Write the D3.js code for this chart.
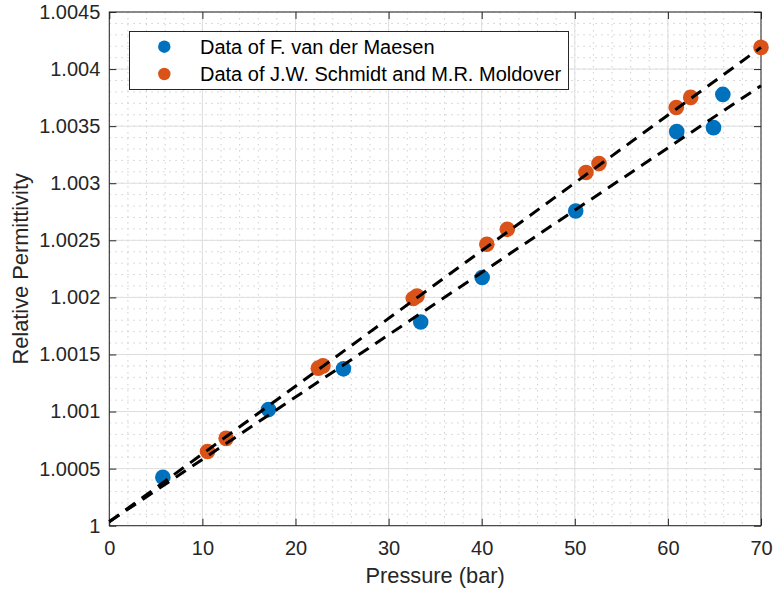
<!DOCTYPE html>
<html>
<head>
<meta charset="utf-8">
<script src="https://cdn.jsdelivr.net/npm/d3@7/dist/d3.min.js"></script>
<style>
  html, body { margin: 0; padding: 0; background: #fff; }
  svg { display: block; font-family: "Liberation Sans", Arial, Helvetica, sans-serif; }
</style>
</head>
<body>
<svg id="chart" width="774" height="595"></svg>
<script>
// Measured relative permittivity versus pressure
const maesenPressure = [5.75, 17.1, 25.15, 33.45, 40.05, 50.1, 60.95, 64.9, 65.9];
const maesenEps      = [1.000425, 1.001017, 1.001374, 1.001784, 1.002174, 1.002757, 1.003452, 1.003487, 1.003778];

const schmidtPressure = [10.55, 12.55, 22.45, 22.95, 32.65, 33.05, 40.55, 42.75, 51.2, 52.6, 60.9, 62.45, 70.0];
const schmidtEps      = [1.000650, 1.000765, 1.001380, 1.001400, 1.001990, 1.002012, 1.002465, 1.002596, 1.003094, 1.003172, 1.003663, 1.003752, 1.004190];

// Linear fits through each data set (end points of the fitted lines)
const fitPressure   = [0, 70];
const fitSchmidt    = [1.000035, 1.004190];
const fitMaesen     = [1.000035, 1.003855];

const xTicks = [0, 10, 20, 30, 40, 50, 60, 70];
const yTicks = [1, 1.0005, 1.001, 1.0015, 1.002, 1.0025, 1.003, 1.0035, 1.004, 1.0045];
const yTickLabels = ["1", "1.0005", "1.001", "1.0015", "1.002", "1.0025", "1.003", "1.0035", "1.004", "1.0045"];
const xMinor = d3.range(0, 70.001, 2);
const yMinor = d3.range(0, 46).map(i => 1 + i * 0.0001);

const legendLabels = ["Data of F. van der Maesen", "Data of J.W. Schmidt and M.R. Moldover"];
const colors = ["#0072BD", "#D95319"];

const svg = d3.select("#chart");
const plotLeft = 109.3, plotRight = 761, plotTop = 12, plotBottom = 525.7;
const x = d3.scaleLinear().domain([0, 70]).range([plotLeft, plotRight]);
const y = d3.scaleLinear().domain([1, 1.0045]).range([plotBottom, plotTop]);

const textColor = "#262626";

// Minor grid (dotted)
const grid = svg.append("g");
grid.selectAll("line.xm").data(xMinor).join("line")
  .attr("x1", d => x(d)).attr("x2", d => x(d)).attr("y1", plotTop).attr("y2", plotBottom)
  .attr("stroke", "#cfcfcf").attr("stroke-width", 1).attr("stroke-dasharray", "1.5,4.5");
grid.selectAll("line.ym").data(yMinor).join("line")
  .attr("y1", d => y(d)).attr("y2", d => y(d)).attr("x1", plotLeft).attr("x2", plotRight)
  .attr("stroke", "#cfcfcf").attr("stroke-width", 1).attr("stroke-dasharray", "1.5,4.5");

// Major grid
const majorGrid = svg.append("g");
majorGrid.selectAll("line.xM").data(xTicks).join("line")
  .attr("x1", d => x(d)).attr("x2", d => x(d)).attr("y1", plotTop).attr("y2", plotBottom)
  .attr("stroke", "#dedede").attr("stroke-width", 1);
majorGrid.selectAll("line.yM").data(yTicks).join("line")
  .attr("y1", d => y(d)).attr("y2", d => y(d)).attr("x1", plotLeft).attr("x2", plotRight)
  .attr("stroke", "#dedede").attr("stroke-width", 1);

// Axes with inward ticks on all four sides
const fmtY = d => yTickLabels[yTicks.indexOf(d)];
const xAxis = d3.axisBottom(x).tickValues(xTicks).tickSizeInner(-7).tickSizeOuter(0).tickPadding(15);
const yAxis = d3.axisLeft(y).tickValues(yTicks).tickFormat(fmtY).tickSizeInner(-7).tickSizeOuter(0).tickPadding(9);
const xAxisTop = d3.axisTop(x).tickValues(xTicks).tickFormat("").tickSizeInner(-7).tickSizeOuter(0);
const yAxisRight = d3.axisRight(y).tickValues(yTicks).tickFormat("").tickSizeInner(-7).tickSizeOuter(0);

function styleAxis(g) {
  g.select(".domain").remove();
  g.selectAll(".tick line").attr("stroke", textColor).attr("stroke-width", 1);
  g.selectAll(".tick text").attr("fill", textColor).style("font-size", "20px")
    .style("font-family", "'Liberation Sans', Arial, Helvetica, sans-serif");
}
svg.append("g").attr("transform", `translate(0,${plotBottom})`).call(xAxis).call(styleAxis);
svg.append("g").attr("transform", `translate(${plotLeft},0)`).call(yAxis).call(styleAxis);
svg.append("g").attr("transform", `translate(0,${plotTop})`).call(xAxisTop).call(styleAxis);
svg.append("g").attr("transform", `translate(${plotRight},0)`).call(yAxisRight).call(styleAxis);

// Axes box
svg.append("rect").attr("x", plotLeft).attr("y", plotTop)
  .attr("width", plotRight - plotLeft).attr("height", plotBottom - plotTop)
  .attr("fill", "none").attr("stroke", textColor).attr("stroke-width", 1);

// Data markers
const markerR = 7.8;
svg.append("g").selectAll("circle").data(maesenPressure.map((p, i) => [p, maesenEps[i]])).join("circle")
  .attr("cx", d => x(d[0])).attr("cy", d => y(d[1])).attr("r", markerR).attr("fill", colors[0]);
svg.append("g").selectAll("circle").data(schmidtPressure.map((p, i) => [p, schmidtEps[i]])).join("circle")
  .attr("cx", d => x(d[0])).attr("cy", d => y(d[1])).attr("r", markerR).attr("fill", colors[1]);

// Fit lines
const fitLine = d3.line().x(d => x(d[0])).y(d => y(d[1]));
[fitSchmidt, fitMaesen].forEach(vals => {
  svg.append("path").datum(fitPressure.map((p, i) => [p, vals[i]]))
    .attr("d", fitLine).attr("fill", "none").attr("stroke", "#000")
    .attr("stroke-width", 3).attr("stroke-dasharray", "12,8");
});

// Axis labels
svg.append("text").attr("x", (plotLeft + plotRight) / 2).attr("y", 583)
  .attr("text-anchor", "middle").attr("fill", textColor).style("font-size", "21.8px")
  .text("Pressure (bar)");
svg.append("text").attr("transform", `translate(28,${(plotTop + plotBottom) / 2}) rotate(-90)`)
  .attr("text-anchor", "middle").attr("fill", textColor).style("font-size", "21.8px")
  .text("Relative Permittivity");

// Legend
const lg = svg.append("g");
lg.append("rect").attr("x", 129.5).attr("y", 31.5).attr("width", 439).attr("height", 58)
  .attr("fill", "#fff").attr("stroke", textColor).attr("stroke-width", 1);
const rowY = [46.7, 74];
legendLabels.forEach((lab, i) => {
  lg.append("circle").attr("cx", 164.3).attr("cy", rowY[i]).attr("r", 6.2).attr("fill", colors[i]);
  lg.append("text").attr("x", 200).attr("y", rowY[i]).attr("dy", "0.35em")
    .attr("fill", "#000").style("font-size", "20px").text(lab);
});
</script>
</body>
</html>
